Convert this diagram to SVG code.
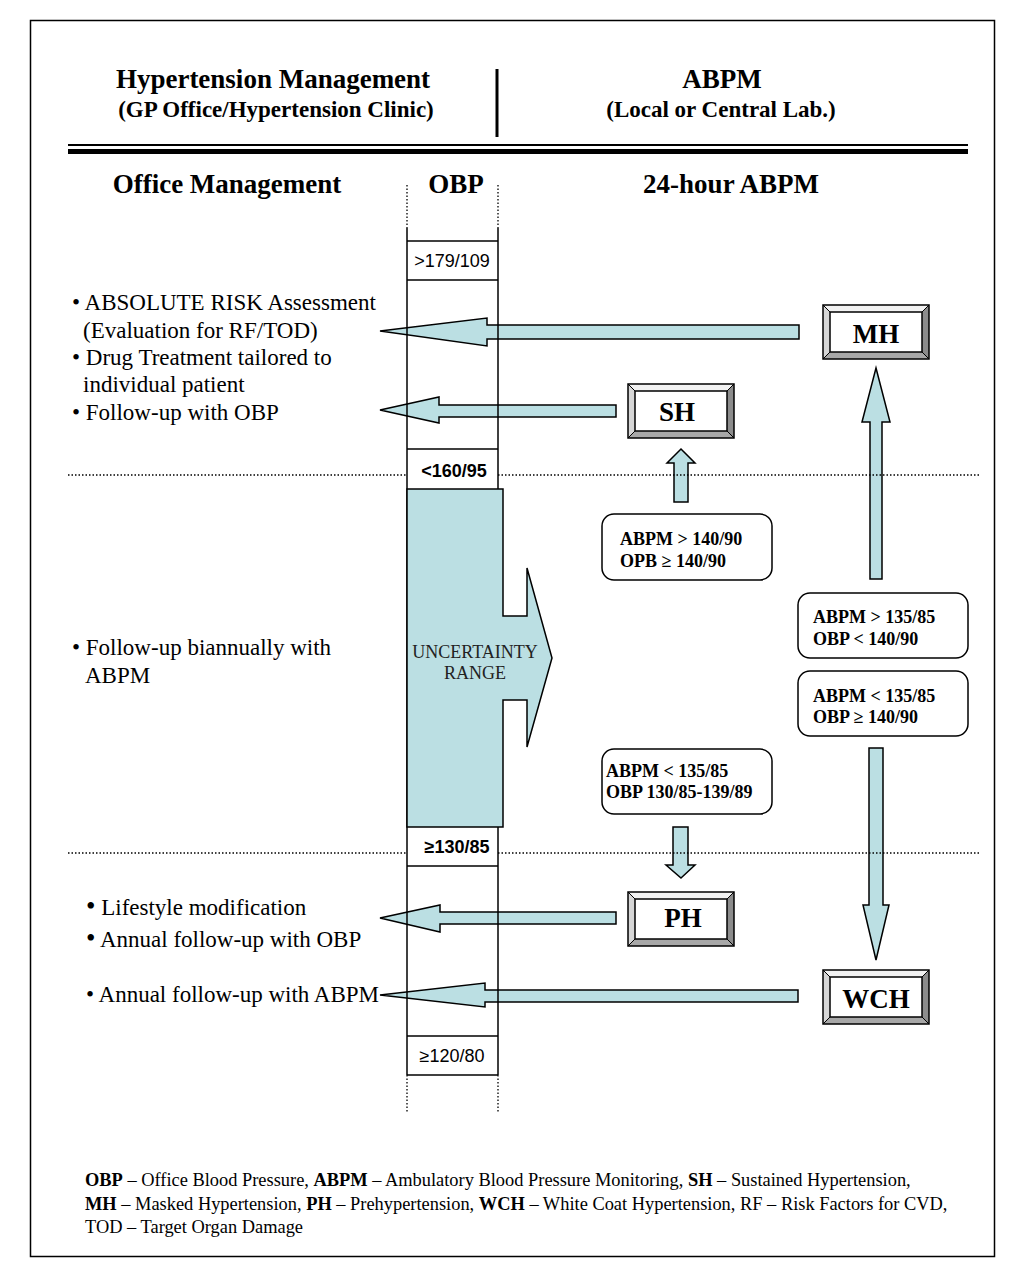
<svg xmlns="http://www.w3.org/2000/svg" xmlns:xlink="http://www.w3.org/1999/xlink" width="1023" height="1284" viewBox="0 0 1023 1284">
<style>
.hd{font-family:"Liberation Serif","Times New Roman",serif;font-weight:bold;fill:#000}
.tx{font-family:"Liberation Serif","Times New Roman",serif;font-size:23px;fill:#000}
.ft{font-family:"Liberation Serif","Times New Roman",serif;font-size:18.4px;fill:#000}
.bx{font-family:"Liberation Serif","Times New Roman",serif;font-size:18px;font-weight:bold;fill:#000}
.nm{font-family:"Liberation Serif","Times New Roman",serif;font-size:27px;font-weight:bold;fill:#000}
.sn{font-family:"Liberation Sans",Arial,sans-serif;font-size:18px;fill:#000}
.arr{fill:#bbdfe3;stroke:#000;stroke-width:1.5;stroke-linejoin:miter}
.col{stroke:#000;stroke-width:1.5;fill:none}
.dot{stroke:#000;stroke-width:1.3;stroke-dasharray:1.5 2;fill:none}
.rr{fill:#fff;stroke:#000;stroke-width:1.5}
</style>
<defs>
<g id="bevel">
<polygon points="0,0 106,0 99,7 7,7" fill="#f2f2f2"/>
<polygon points="0,0 7,7 7,47 0,54" fill="#d6d6d6"/>
<polygon points="106,0 106,54 99,47 99,7" fill="#8c8c8c"/>
<polygon points="0,54 7,47 99,47 106,54" fill="#a8a8a8"/>
<path d="M0,0 L7,7 M106,0 L99,7 M0,54 L7,47 M106,54 L99,47" stroke="#000" stroke-width="1"/>
<rect x="0" y="0" width="106" height="54" fill="none" stroke="#000" stroke-width="1.5"/>
<rect x="7" y="7" width="92" height="40" fill="#fff" stroke="#000" stroke-width="1.5"/>
</g>
</defs>
<rect width="1023" height="1284" fill="#fff"/>
<rect x="30.5" y="20.5" width="964" height="1236" fill="none" stroke="#000" stroke-width="1.5"/>

<g id="header">
<text class="hd" x="273" y="88" font-size="27" text-anchor="middle">Hypertension Management</text>
<text class="hd" x="276" y="117" font-size="23" text-anchor="middle">(GP Office/Hypertension Clinic)</text>
<text class="hd" x="722" y="88" font-size="27" text-anchor="middle">ABPM</text>
<text class="hd" x="721" y="117" font-size="23" text-anchor="middle">(Local or Central Lab.)</text>
<line x1="497" y1="69" x2="497" y2="137" stroke="#000" stroke-width="3"/>
<line x1="68" y1="145" x2="968" y2="145" stroke="#000" stroke-width="2"/>
<line x1="68" y1="151.5" x2="968" y2="151.5" stroke="#000" stroke-width="5"/>
<text class="hd" x="227" y="193" font-size="27" text-anchor="middle">Office Management</text>
<text class="hd" x="456" y="193" font-size="27" text-anchor="middle">OBP</text>
<text class="hd" x="731" y="193" font-size="27" text-anchor="middle">24-hour ABPM</text>
</g>

<g id="connectors">
<polygon class="arr" points="380,331 487,318 487,325 799,325 799,339 487,339 487,346"/>
<polygon class="arr" points="380,410 439,397 439,405 616,405 616,417 439,417 439,423"/>
<polygon class="arr" points="380,918 440,905 440,912 616,912 616,924 440,924 440,932"/>
<polygon class="arr" points="380,995 485,983 485,990 798,990 798,1002 485,1002 485,1007"/>
<polygon class="arr" points="681,449 695,463 688,463 688,502 674,502 674,463 667,463"/>
<polygon class="arr" points="876,368 890,422 882,422 882,579 870,579 870,422 862,422"/>
<polygon class="arr" points="876,960 889,905 883,905 883,748 869,748 869,905 863,905"/>
<polygon class="arr" points="681,878 695,865 688,865 688,827 673,827 673,865 666,865"/>
</g>

<g id="obp-column">
<line class="dot" x1="407" y1="185" x2="407" y2="228"/>
<line class="dot" x1="498" y1="185" x2="498" y2="228"/>
<line class="col" x1="407" y1="228" x2="407" y2="1075"/>
<line class="col" x1="498" y1="228" x2="498" y2="1075"/>
<line class="dot" x1="407" y1="1075" x2="407" y2="1113"/>
<line class="dot" x1="498" y1="1075" x2="498" y2="1113"/>
<line class="col" x1="407" y1="241" x2="498" y2="241"/>
<line class="col" x1="407" y1="280" x2="498" y2="280"/>
<line class="col" x1="407" y1="449" x2="498" y2="449"/>
<line class="col" x1="407" y1="866" x2="498" y2="866"/>
<line class="col" x1="407" y1="1036" x2="498" y2="1036"/>
<line class="col" x1="407" y1="1075" x2="498" y2="1075"/>
<line class="dot" x1="68" y1="475" x2="407" y2="475"/>
<line class="dot" x1="498" y1="475" x2="981" y2="475"/>
<line class="dot" x1="68" y1="853" x2="407" y2="853"/>
<line class="dot" x1="498" y1="853" x2="981" y2="853"/>
<text class="sn" x="452" y="267" text-anchor="middle">&gt;179/109</text>
<text class="sn" x="454" y="477" font-weight="bold" text-anchor="middle">&lt;160/95</text>
<text class="sn" x="457" y="853" font-weight="bold" text-anchor="middle">≥130/85</text>
<text class="sn" x="452" y="1062" text-anchor="middle">≥120/80</text>
</g>

<g id="uncertainty">
<polygon points="407,489 503,489 503,616 527,616 527,568 552,658 527,747 527,700 503,700 503,827 407,827" fill="#bbdfe3" stroke="#000" stroke-width="1.5"/>
<text x="475" y="658" font-family="Liberation Serif,Times New Roman,serif" font-size="18" fill="#222" text-anchor="middle">UNCERTAINTY</text>
<text x="475" y="679" font-family="Liberation Serif,Times New Roman,serif" font-size="18" fill="#222" text-anchor="middle">RANGE</text>
</g>

<g id="left-text">
<text class="tx" x="72" y="310">• ABSOLUTE RISK Assessment</text>
<text class="tx" x="83" y="338">(Evaluation for RF/TOD)</text>
<text class="tx" x="72" y="365">• Drug Treatment tailored to</text>
<text class="tx" x="83" y="392">individual patient</text>
<text class="tx" x="72" y="420">• Follow-up with OBP</text>
<text class="tx" x="72" y="655">• Follow-up biannually with</text>
<text class="tx" x="85" y="683">ABPM</text>
<text class="tx" x="86" y="915"><tspan font-size="27">•</tspan> Lifestyle modification</text>
<text class="tx" x="86" y="947"><tspan font-size="27">•</tspan> Annual follow-up with OBP</text>
<text class="tx" x="86" y="1002">• Annual follow-up with ABPM</text>
</g>

<g id="node-mh"><use xlink:href="#bevel" x="823" y="305"/><text class="nm" x="876" y="343" text-anchor="middle">MH</text></g>
<g id="node-sh"><use xlink:href="#bevel" x="628" y="384"/><text class="nm" x="677" y="421" text-anchor="middle">SH</text></g>
<g id="node-ph"><use xlink:href="#bevel" x="628" y="892"/><text class="nm" x="683" y="927" text-anchor="middle">PH</text></g>
<g id="node-wch"><use xlink:href="#bevel" x="823" y="970"/><text class="nm" x="876" y="1008" text-anchor="middle">WCH</text></g>

<g id="cond-sh"><rect class="rr" x="602" y="514" width="170" height="66" rx="12"/>
<text class="bx" x="620" y="545">ABPM &gt; 140/90</text>
<text class="bx" x="620" y="567">OPB ≥ 140/90</text></g>
<g id="cond-mh"><rect class="rr" x="798" y="593" width="170" height="65" rx="12"/>
<text class="bx" x="813" y="623">ABPM &gt; 135/85</text>
<text class="bx" x="813" y="645">OBP &lt; 140/90</text></g>
<g id="cond-wch"><rect class="rr" x="798" y="671" width="170" height="65" rx="12"/>
<text class="bx" x="813" y="702">ABPM &lt; 135/85</text>
<text class="bx" x="813" y="723">OBP ≥ 140/90</text></g>
<g id="cond-ph"><rect class="rr" x="602" y="749" width="170" height="65" rx="12"/>
<text class="bx" x="606" y="777" font-size="18.5">ABPM &lt; 135/85</text>
<text class="bx" x="606" y="798" font-size="18.5">OBP 130/85-139/89</text></g>

<g id="footer">
<text class="ft" x="85" y="1186"><tspan font-weight="bold">OBP</tspan> – Office Blood Pressure, <tspan font-weight="bold">ABPM</tspan> – Ambulatory Blood Pressure Monitoring, <tspan font-weight="bold">SH</tspan> – Sustained Hypertension,</text>
<text class="ft" x="85" y="1210"><tspan font-weight="bold">MH</tspan> – Masked Hypertension, <tspan font-weight="bold">PH</tspan> – Prehypertension, <tspan font-weight="bold">WCH</tspan> – White Coat Hypertension, RF – Risk Factors for CVD,</text>
<text class="ft" x="85" y="1233">TOD – Target Organ Damage</text>
</g>
</svg>
